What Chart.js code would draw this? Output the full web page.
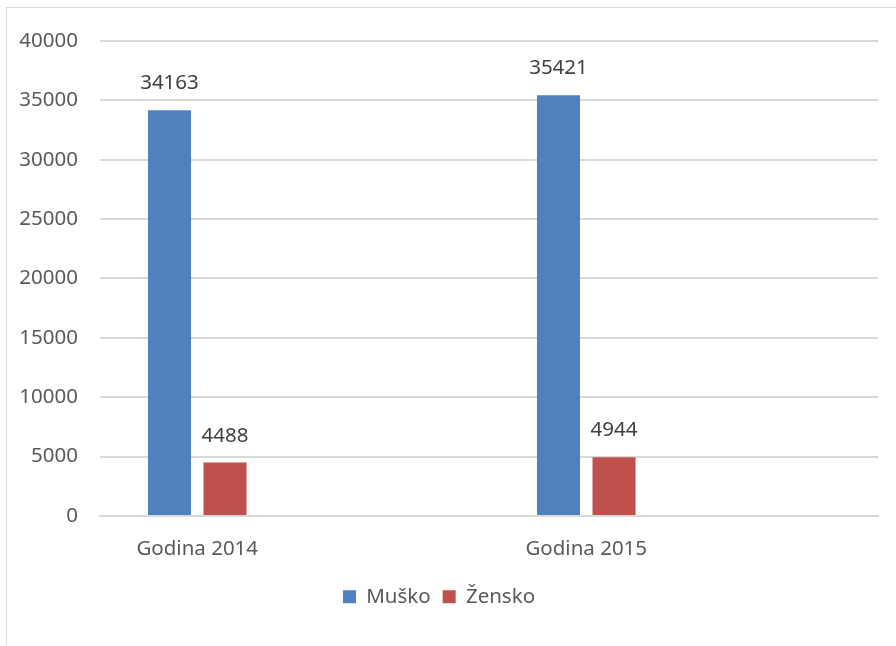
<html>
<head>
<meta charset="UTF-8">
<title>Muško / Žensko</title>
<style>
body {
    margin: 0;
    background: white;
    overflow: hidden;
}

div.wrap {
    position: relative;
    width: 896px;
    height: 646px;
}

div.frame {
    position: absolute;
    left: 6px;
    top: 7px;
    right: 0;
    bottom: 0;
    border-left: 1px solid #d9d9d9;
    border-top: 1px solid #d9d9d9;
    pointer-events: none;
}

canvas {
    position: absolute;
    left: 0;
    top: 0;
}
</style>
<script src="https://cdn.jsdelivr.net/npm/chart.js@4.4.0/dist/chart.umd.min.js"></script>
</head>
<body>
<div class="wrap">
<canvas id="canvas" width="896" height="646"></canvas>
<div class="frame"></div>
</div>
<script>
// empty slots after each year keep the groups where the original puts them
const categories = ["Godina 2014", "", "Godina 2015", ""]
const musko = [34163, null, 35421, null]
const zensko = [4488, null, 4944, null]
const yMax = 40000
const yStep = 5000

const FONT = "'Noto Sans', 'Open Sans', sans-serif"
const SIZE = 20.5

// numbers above the bars
const valueLabels = {
    id: "valueLabels",
    afterDatasetsDraw(chart) {
        const ctx = chart.ctx
        ctx.save()
        ctx.font = SIZE + "px " + FONT
        ctx.fillStyle = "#404040"
        ctx.textAlign = "center"
        ctx.textBaseline = "alphabetic"
        chart.data.datasets.forEach((ds, i) => {
            chart.getDatasetMeta(i).data.forEach((bar, j) => {
                if (ds.data[j] == null) return
                ctx.fillText(ds.data[j], bar.x, bar.y - 21)
            })
        })
        ctx.restore()
    }
}

const ctx = document.getElementById("canvas").getContext("2d")
const chart = new Chart(ctx, {
    type: "bar",
    data: {
        labels: categories,
        datasets: [
            {label: "Muško", data: musko, backgroundColor: "#4f81bd", borderWidth: 0},
            {label: "Žensko", data: zensko, backgroundColor: "#c0504d", borderWidth: 0},
        ],
    },
    options: {
        responsive: false,
        animation: false,
        categoryPercentage: 0.571,
        barPercentage: 0.775,
        layout: {padding: {top: 41, right: 18, bottom: 29, left: 0}},
        plugins: {
            legend: {
                position: "bottom",
                labels: {
                    boxWidth: 13,
                    boxHeight: 13,
                    padding: 12,
                    color: "#595959",
                    font: {family: FONT, size: SIZE},
                },
            },
            tooltip: {enabled: false},
        },
        scales: {
            x: {
                grid: {display: false},
                border: {display: true, color: "#d9d9d9", width: 2},
                ticks: {color: "#595959", font: {family: FONT, size: SIZE}, padding: 13, maxRotation: 0},
            },
            y: {
                min: 0,
                max: yMax,
                afterFit: (scale) => { scale.width = 100 },
                border: {display: false},
                grid: {color: "#d9d9d9", lineWidth: 2, drawTicks: false},
                ticks: {
                    stepSize: yStep,
                    color: "#595959",
                    font: {family: FONT, size: SIZE},
                    padding: 22,
                    callback: (value) => String(value),
                },
            },
        },
    },
    plugins: [valueLabels],
})
</script>
</body>
</html>
